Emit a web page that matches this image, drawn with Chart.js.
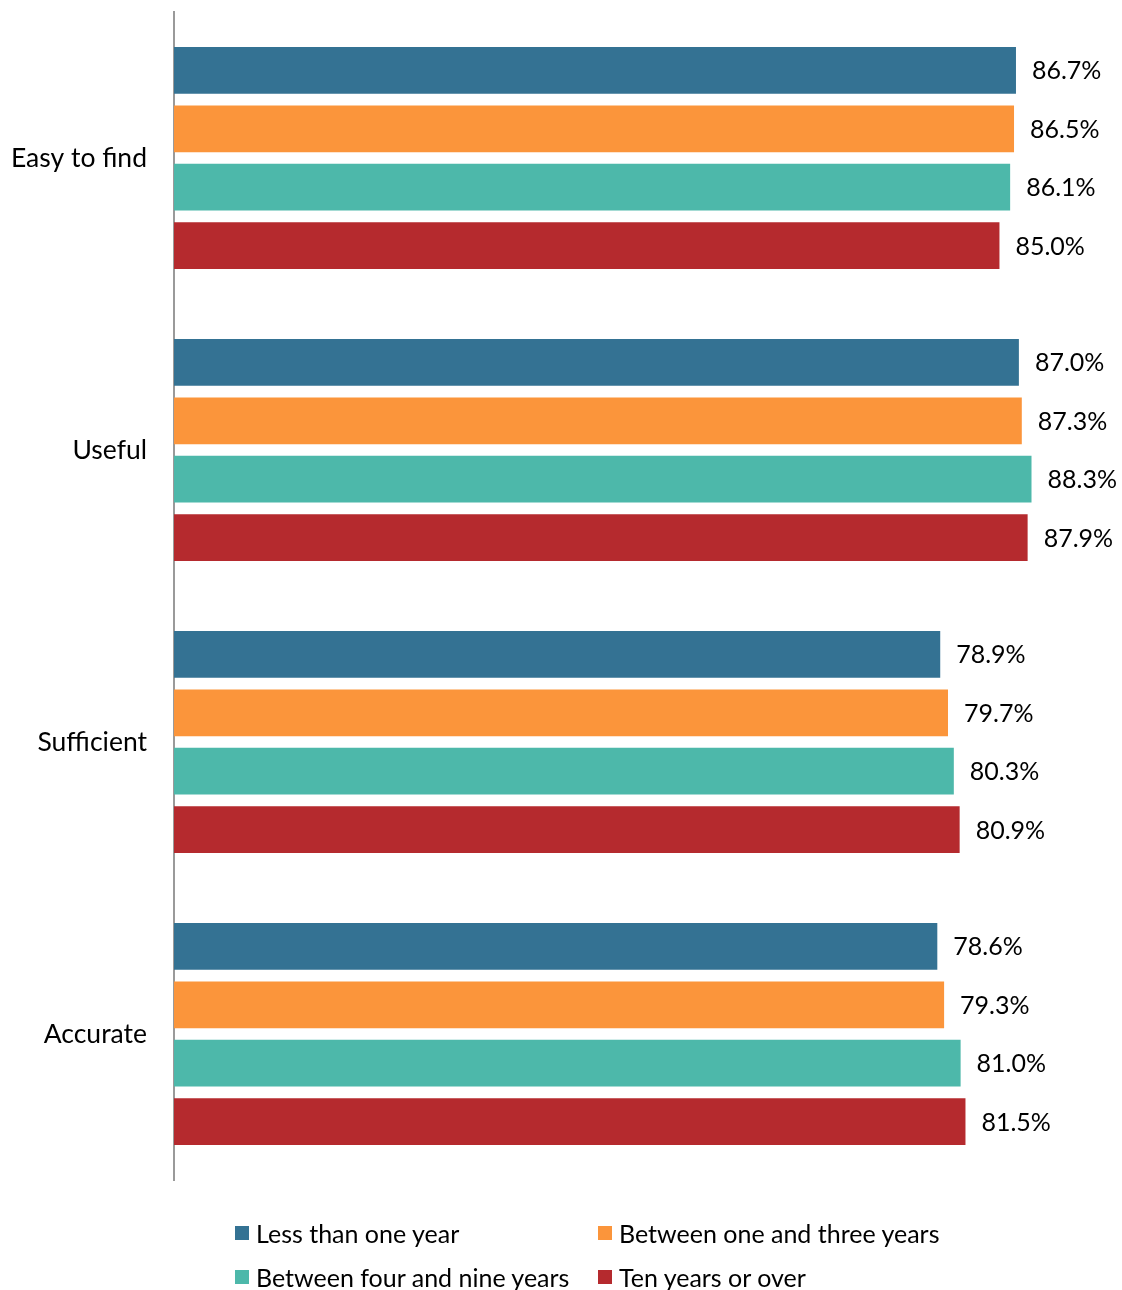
<!DOCTYPE html>
<html>
<head>
<meta charset="utf-8">
<script src="https://cdn.jsdelivr.net/npm/chart.js@4/dist/chart.umd.min.js"></script>
<style>
  html, body { margin: 0; padding: 0; background: #fff; }
  #wrap { position: relative; width: 1122px; height: 1290px; }
  #chart { position: absolute; left: 0; top: 0; }
  .legend-item { position: absolute; display: flex; align-items: center; font-family: Lato, "Open Sans", sans-serif; font-size: 25px; color: #000; white-space: nowrap; height: 30px; }
  .legend-item .sw { width: 14px; height: 14px; margin-right: 7px; }
</style>
</head>
<body>
<div id="wrap">
  <canvas id="chart" width="1122" height="1290"></canvas>
  <div id="legend"></div>
</div>
<script>
// Survey attributes and respondent tenure groups
const categories = ["Easy to find", "Useful", "Sufficient", "Accurate"];
const seriesNames = ["Less than one year", "Between one and three years", "Between four and nine years", "Ten years or over"];
const lessThanOne = [86.7, 87.0, 78.9, 78.6];
const oneToThree = [86.5, 87.3, 79.7, 79.3];
const fourToNine = [86.1, 88.3, 80.3, 81.0];
const tenOrOver = [85.0, 87.9, 80.9, 81.5];
const seriesColors = ["#347293", "#FB953B", "#4DB8AA", "#B52A2E"];

const seriesValues = [lessThanOne, oneToThree, fourToNine, tenOrOver];
const FONT = 'Lato, "Open Sans", sans-serif';

// Percentage labels to the right of each bar
const valueLabels = {
  id: 'valueLabels',
  afterDatasetsDraw(chart) {
    const ctx = chart.ctx;
    ctx.save();
    ctx.font = '25px ' + FONT;
    ctx.fillStyle = '#000';
    ctx.textAlign = 'left';
    ctx.textBaseline = 'middle';
    chart.data.datasets.forEach((ds, i) => {
      chart.getDatasetMeta(i).data.forEach((bar, j) => {
        ctx.fillText(ds.data[j].toFixed(1) + '%', bar.x + 16, bar.y + 1);
      });
    });
    ctx.restore();
  }
};

new Chart(document.getElementById('chart'), {
  type: 'bar',
  data: {
    labels: categories,
    datasets: seriesNames.map((name, i) => ({
      label: name,
      data: seriesValues[i],
      backgroundColor: seriesColors[i],
      borderWidth: 0,
      categoryPercentage: 0.8,
      barPercentage: 0.8
    }))
  },
  options: {
    indexAxis: 'y',
    responsive: false,
    animation: false,
    layout: { padding: { left: 0, right: 6, top: 12, bottom: 110 } },
    plugins: {
      legend: { display: false },
      tooltip: { enabled: false }
    },
    scales: {
      x: {
        display: false,
        min: 0,
        max: 97
      },
      y: {
        grid: { display: false, drawTicks: false },
        border: { display: true, color: '#9a9a9a', width: 2 },
        ticks: {
          color: '#000',
          font: { family: FONT, size: 26.5 },
          padding: 27
        },
        afterFit(scale) {
          scale.width = 174;
          scale.paddingTop = 0;
          scale.paddingBottom = 0;
        }
      }
    }
  },
  plugins: [valueLabels]
});

// Two-column legend under the plot
const legendPos = [[235, 1218], [598, 1218], [235, 1262], [598, 1262]];
const legend = document.getElementById('legend');
seriesNames.forEach((name, i) => {
  const item = document.createElement('div');
  item.className = 'legend-item';
  item.style.left = legendPos[i][0] + 'px';
  item.style.top = legendPos[i][1] + 'px';
  const sw = document.createElement('span');
  sw.className = 'sw';
  sw.style.background = seriesColors[i];
  const tx = document.createElement('span');
  tx.textContent = name;
  item.appendChild(sw);
  item.appendChild(tx);
  legend.appendChild(item);
});
</script>
</body>
</html>
